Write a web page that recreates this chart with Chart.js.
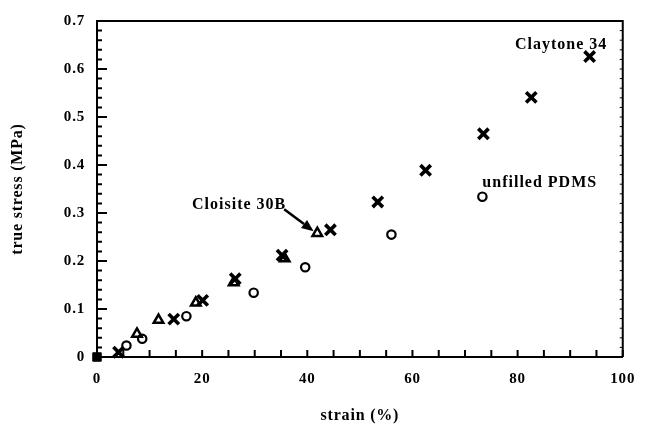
<!DOCTYPE html>
<html>
<head>
<meta charset="utf-8">
<script src="https://cdn.jsdelivr.net/npm/chart.js@4.4.1/dist/chart.umd.min.js"></script>
<style>
	html, body { margin: 0; padding: 0; background: #fff; }
	canvas { display: block; }
</style>
</head>
<body>
<canvas id="mycanvas" width="647" height="426"></canvas>
<script>
// strain (%) and true stress (MPa)
var claytoneStrain = [4.1, 14.6, 20.1, 26.3, 35.2, 44.4, 53.4, 62.5, 73.5, 82.6, 93.7];
var claytoneStress = [0.010, 0.079, 0.118, 0.163, 0.212, 0.265, 0.323, 0.389, 0.465, 0.541, 0.626];

var pdmsStrain = [5.6, 8.6, 17.0, 29.8, 39.6, 56.0, 73.3];
var pdmsStress = [0.024, 0.038, 0.085, 0.134, 0.187, 0.255, 0.334];

var cloisiteStrain = [7.6, 11.7, 18.8, 26.0, 35.7, 41.9];
var cloisiteStress = [0.048, 0.077, 0.113, 0.155, 0.205, 0.258];

var originStrain = [0];
var originStress = [0];

var xTickLabels = ['0', '20', '40', '60', '80', '100'];
var yTickLabels = ['0', '0.1', '0.2', '0.3', '0.4', '0.5', '0.6', '0.7'];

var serif = "'Liberation Serif', 'Times New Roman', serif";

function toPoints(xs, ys){
	var out = [];
	for(var i in xs){
		out.push({x: xs[i], y: ys[i]});
	}
	return out;
}

// text labels and arrow, placed in data units
var notes = [
	{text: 'Claytone 34', x: 79.5, y: 0.651, align: 'left'},
	{text: 'unfilled PDMS', x: 73.3, y: 0.362, align: 'left'},
	{text: 'Cloisite 30B', x: 36.0, y: 0.318, align: 'right'}
];
var arrow = {x1: 35.6, y1: 0.308, x2: 41.2, y2: 0.262};

var framePlugin = {
	id: 'frame',
	beforeDraw: function(chart){
		chart.ctx.letterSpacing = '0.8px';
	},
	afterDraw: function(chart){
		var ctx = chart.ctx;
		var a = chart.chartArea;
		var xs = chart.scales.x, ys = chart.scales.y;
		ctx.save();
		ctx.strokeStyle = '#000';
		ctx.lineWidth = 2;
		ctx.beginPath();
		ctx.moveTo(a.left, a.top);
		ctx.lineTo(a.right, a.top);
		ctx.lineTo(a.right, a.bottom);
		ctx.stroke();

		// inward tick marks
		ctx.lineWidth = 2;
		ctx.beginPath();
		for(var v = 0; v <= 100.001; v += 5){
			var px = xs.getPixelForValue(v);
			ctx.moveTo(px, a.bottom);
			ctx.lineTo(px, a.bottom - 7);
		}
		for(var k = 0; k <= 35; k++){
			var py = ys.getPixelForValue(k * 0.02);
			var len = (k % 5 === 0) ? 10 : 5;
			ctx.moveTo(a.left, py);
			ctx.lineTo(a.left + len, py);
		}
		ctx.stroke();
		ctx.lineWidth = 1;
		ctx.beginPath();
		for(var k2 = 1; k2 < 35; k2++){
			var py2 = ys.getPixelForValue(k2 * 0.02);
			ctx.moveTo(a.right, py2);
			ctx.lineTo(a.right - 3, py2);
		}
		ctx.stroke();

		// annotations
		ctx.fillStyle = '#000';
		ctx.font = 'bold 16px ' + serif;
		ctx.letterSpacing = '1px';
		ctx.textBaseline = 'middle';
		notes.forEach(function(n){
			ctx.textAlign = n.align;
			ctx.fillText(n.text, xs.getPixelForValue(n.x), ys.getPixelForValue(n.y));
		});

		var x1 = xs.getPixelForValue(arrow.x1), y1 = ys.getPixelForValue(arrow.y1);
		var x2 = xs.getPixelForValue(arrow.x2), y2 = ys.getPixelForValue(arrow.y2);
		var ang = Math.atan2(y2 - y1, x2 - x1);
		var hl = 12, hw = 5;
		var bx = x2 - hl * Math.cos(ang), by = y2 - hl * Math.sin(ang);
		ctx.lineWidth = 2.5;
		ctx.beginPath();
		ctx.moveTo(x1, y1);
		ctx.lineTo(bx, by);
		ctx.stroke();
		ctx.beginPath();
		ctx.moveTo(x2, y2);
		ctx.lineTo(bx + hw * Math.sin(ang), by - hw * Math.cos(ang));
		ctx.lineTo(bx - hw * Math.sin(ang), by + hw * Math.cos(ang));
		ctx.closePath();
		ctx.fill();
		ctx.restore();
	}
};

var chartdata = {
	datasets: [
		{
			label: 'Claytone 34',
			data: toPoints(claytoneStrain, claytoneStress),
			pointStyle: 'crossRot',
			pointRadius: 7.3,
			borderColor: '#000',
			backgroundColor: '#000',
			pointBorderWidth: 3.6,
			showLine: false,
			clip: false
		},
		{
			label: 'unfilled PDMS',
			data: toPoints(pdmsStrain, pdmsStress),
			pointStyle: 'circle',
			pointRadius: 4.2,
			borderColor: '#000',
			backgroundColor: 'rgba(0,0,0,0)',
			pointBorderWidth: 2.2,
			showLine: false,
			clip: false
		},
		{
			label: 'Cloisite 30B',
			data: toPoints(cloisiteStrain, cloisiteStress),
			pointStyle: 'triangle',
			pointRadius: 5.5,
			borderColor: '#000',
			backgroundColor: 'rgba(0,0,0,0)',
			pointBorderWidth: 2.5,
			showLine: false,
			clip: false
		},
		{
			label: 'origin',
			data: toPoints(originStrain, originStress),
			pointStyle: 'rect',
			pointRadius: 6,
			borderColor: '#000',
			backgroundColor: '#000',
			pointBorderWidth: 1,
			showLine: false,
			clip: false
		}
	]
};

var ctx = document.getElementById('mycanvas');

var scatter = new Chart(ctx, {
	type: 'scatter',
	data: chartdata,
	plugins: [framePlugin],
	options: {
		responsive: false,
		animation: false,
		devicePixelRatio: 1,
		layout: {padding: {top: 20, right: 14, left: 0, bottom: 0}},
		plugins: {
			legend: {display: false},
			tooltip: {enabled: false}
		},
		scales: {
			x: {
				type: 'linear',
				min: 0,
				max: 100,
				afterFit: function(scale){ scale.height = 69; },
				afterBuildTicks: function(scale){
					scale.ticks = xTickLabels.map(function(t){ return {value: parseFloat(t)}; });
				},
				ticks: {
					padding: 13,
					color: '#000',
					font: {family: serif, size: 15, weight: 'bold'},
					callback: function(v, i){ return xTickLabels[i]; }
				},
				grid: {display: false, drawTicks: false},
				border: {display: true, color: '#000', width: 2},
				title: {
					display: true,
					text: 'strain (%)',
					color: '#000',
					font: {family: serif, size: 16, weight: 'bold'},
					padding: {top: 0, bottom: 1}
				}
			},
			y: {
				type: 'linear',
				min: 0,
				max: 0.7,
				afterFit: function(scale){ scale.width = 97; },
				afterBuildTicks: function(scale){
					scale.ticks = yTickLabels.map(function(t){ return {value: parseFloat(t)}; });
				},
				ticks: {
					padding: 12,
					color: '#000',
					font: {family: serif, size: 15, weight: 'bold'},
					callback: function(v, i){ return yTickLabels[i]; }
				},
				grid: {display: false, drawTicks: false},
				border: {display: true, color: '#000', width: 2},
				title: {
					display: true,
					text: 'true stress (MPa)',
					color: '#000',
					font: {family: serif, size: 16, weight: 'bold'},
					padding: {top: 8, bottom: 0}
				}
			}
		}
	}
});
</script>
</body>
</html>
